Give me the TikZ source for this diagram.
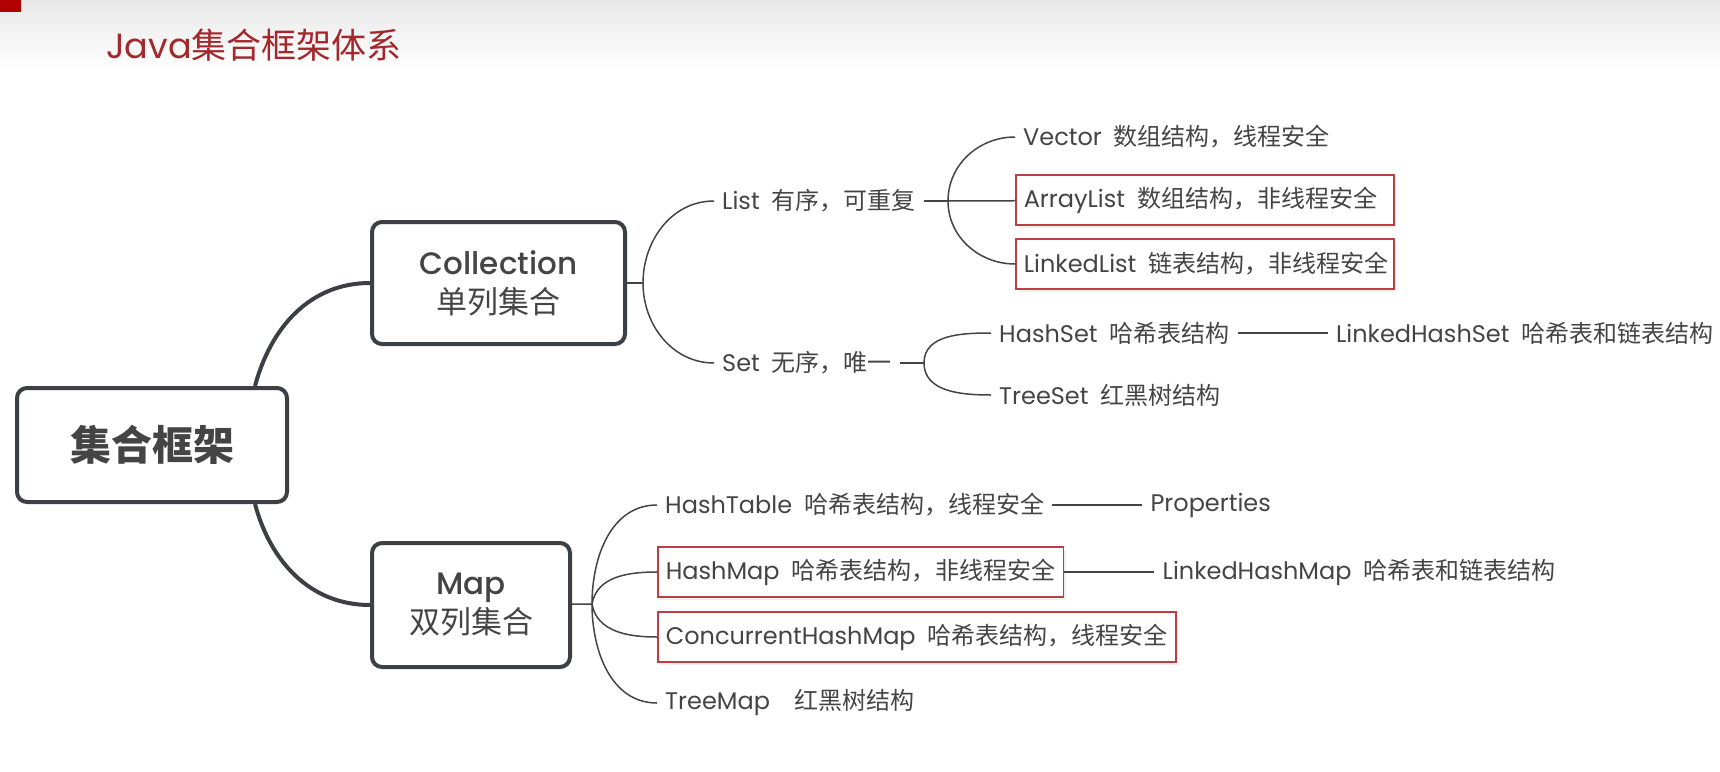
\documentclass[tikz,border=0pt]{standalone}
\usepackage{fontspec}
\setmainfont{Poppins}
\newfontfamily\zhfont{Noto Sans CJK SC}
\newfontfamily\topicfont{Poppins Medium}
\newcommand{\zh}[1]{{\zhfont #1}}
\usetikzlibrary{positioning,shadows}
\definecolor{titlered}{RGB}{163,40,44}
\definecolor{boxgray}{RGB}{60,63,68}
\definecolor{textgray}{RGB}{68,68,68}
\definecolor{markred}{RGB}{188,62,66}
\definecolor{slidered}{RGB}{176,0,0}

\begin{document}
\begin{tikzpicture}[
    x=1pt,y=1pt,node distance=90pt,
    topic/.style={draw=boxgray,line width=4pt,rounded corners=10pt,fill=white,align=center,text=textgray},
    leaf/.style={anchor=west,inner xsep=8pt,minimum height=50pt,text=textgray,font=\fontsize{24}{29}\selectfont},
    marked/.style={draw=markred,line width=1.6pt,fill=white,drop shadow={opacity=0.12,shadow xshift=2pt,shadow yshift=-3pt}},
    bigline/.style={draw=boxgray,line width=4pt},
    thinline/.style={draw=textgray,line width=1.5pt}
  ]
  \useasboundingbox (0,0) rectangle (1720,-771);
  \fill[top color=black!9,bottom color=white] (0,0) rectangle (1720,-70);
  \fill[slidered] (0,0) rectangle (21,-12);

  \node[anchor=west,inner sep=0pt,text=titlered,font=\fontsize{35}{40}\selectfont] (title) at (106,-45) {Java\zh{集合框架体系}};

  \node[topic,minimum width=270pt,minimum height=114pt,font=\zhfont\bfseries\fontsize{41}{48}\selectfont] (root) at (152,-445) {集合框架};
  \node[topic,minimum width=253pt,minimum height=122pt,font=\fontsize{31}{39}\selectfont] (coll) at (498.5,-283) {{\topicfont Collection}\\\zh{单列集合}};
  \node[topic,minimum width=198pt,minimum height=124pt,font=\fontsize{31}{39}\selectfont] (map) at (471,-605) {{\topicfont Map}\\\zh{双列集合}};

  \coordinate (rt) at ([xshift=-34pt]root.north east);
  \coordinate (rb) at ([xshift=-34pt]root.south east);
  \coordinate (cb) at (643,-283);
  \coordinate (lb) at (948,-201);
  \coordinate (sb) at (924,-363);
  \coordinate (mb) at (592,-604);

  % Collection side
  \node[leaf] (list) at (714,-201) {List\enspace\zh{有序，可重复}};
  \node[leaf] (set) at (714,-363) {Set\enspace\zh{无序，唯一}};
  \node[leaf] (vector) at (1015,-137) {Vector\enspace\zh{数组结构，线程安全}};
  \node[leaf,marked,text width=362pt,align=left] (alist) at (1015,-200) {ArrayList\enspace\zh{数组结构，非线程安全}};
  \node[leaf,marked,text width=362pt,align=left] (llist) at (1015,-264) {LinkedList\enspace\zh{链表结构，非线程安全}};
  \node[leaf] (hset) at (991,-333) {HashSet\enspace\zh{哈希表结构}};
  \node[leaf] (lhset) [right=of hset] {LinkedHashSet\enspace\zh{哈希表和链表结构}};
  \node[leaf] (tset) at (991,-395) {TreeSet\enspace\zh{红黑树结构}};

  % Map side
  \node[leaf] (htable) at (657,-505) {HashTable\enspace\zh{哈希表结构，线程安全}};
  \node[leaf] (props) [right=of htable] {Properties};
  \node[leaf,marked] (hmap) at (657,-572) {HashMap\enspace\zh{哈希表结构，非线程安全}};
  \node[leaf] (lhmap) [right=of hmap] {LinkedHashMap\enspace\zh{哈希表和链表结构}};
  \node[leaf,marked] (chmap) at (657,-637) {ConcurrentHashMap\enspace\zh{哈希表结构，线程安全}};
  \node[leaf] (tmap) at (657,-703) {TreeMap\enspace\enspace\zh{红黑树结构}};

  \path[bigline]
    (rt) edge [out=75,in=180] (coll)
    (rb) edge [out=-75,in=180] (map);
  \path[thinline]
    (coll) edge (cb)
    (cb) edge [out=90,in=180] (list)
    (cb) edge [out=-90,in=180] (set)
    (list) edge (lb)
    (lb) edge [out=90,in=180] (vector)
    (lb) edge (alist)
    (lb) edge [out=-90,in=180] (llist)
    (set) edge (sb)
    (sb) edge [out=90,in=180] (hset)
    (sb) edge [out=-90,in=180] (tset)
    (hset) edge (lhset)
    (map) edge (mb)
    (mb) edge [out=90,in=180] (htable)
    (mb) edge [out=80,in=180] (hmap)
    (mb) edge [out=-80,in=180] (chmap)
    (mb) edge [out=-90,in=180] (tmap)
    (htable) edge (props)
    (hmap) edge (lhmap);
\end{tikzpicture}
\end{document}
